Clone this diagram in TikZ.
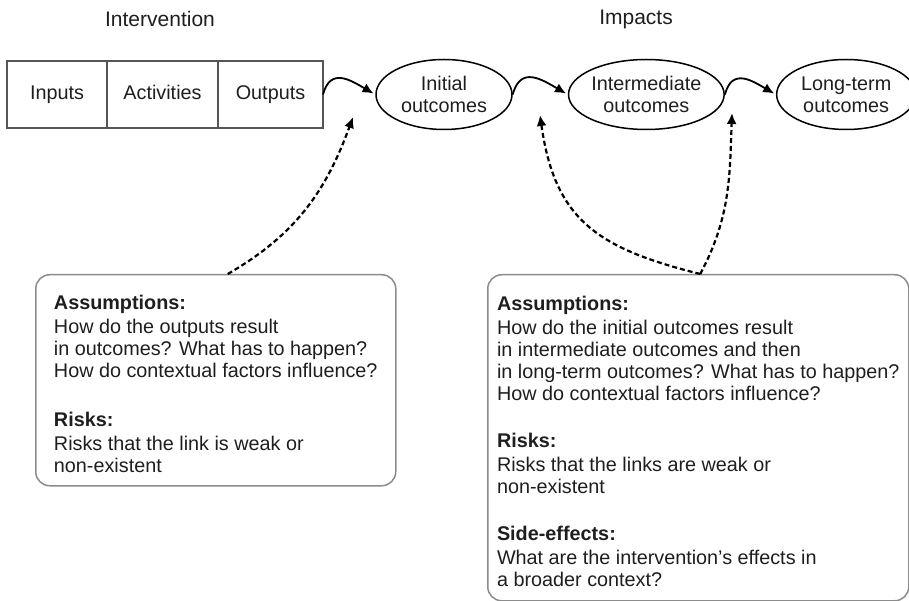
\documentclass[tikz,border=0pt]{standalone}
\usepackage{fontspec}
\setmainfont{Liberation Sans}
\usetikzlibrary{shapes.geometric,arrows.meta,positioning}
\definecolor{boxgray}{HTML}{8C8C8C}
\definecolor{cellgray}{HTML}{555555}
\definecolor{inkgray}{HTML}{1E1E1E}

\tikzset{
    every node/.style={font=\fontsize{19.8}{22}\selectfont, text=inkgray},
    heading/.style={font=\fontsize{21}{24}\selectfont},
    cell/.style={draw=cellgray, line width=1.3pt, minimum height=67pt, outer sep=0pt, inner sep=0pt, text height=14pt, text depth=4pt},
    outcome/.style={ellipse, draw, line width=1.5pt, minimum width=136pt, minimum height=70pt, inner sep=0pt, align=center},
    notebox/.style={draw=boxgray, line width=1.5pt, rounded corners=14pt, align=left, anchor=north west, inner sep=0pt},
    flow/.style={-{Latex[length=11pt,width=10pt]}, line width=1.8pt, looseness=1.4, shorten >=2pt},
    link/.style={-{Latex[length=11pt,width=10pt]}, line width=2.2pt, dash pattern=on 5pt off 3pt}
}

\begin{document}
\begin{tikzpicture}[x=1pt, y=1pt]
        \useasboundingbox (0,0) rectangle (909,-601);

        % headings
        \node[heading] (intervention) at (160,-19) {Intervention};
        \node[heading] (impacts)      at (636,-19) {Impacts};

        % intervention chain
        \node[cell, minimum width=100pt] (inputs) at (57,-94.5) {Inputs};
        \node[cell, minimum width=111pt, right=0pt of inputs] (activities) {Activities};
        \node[cell, minimum width=105pt, right=0pt of activities] (outputs) {Outputs};

        % impacts chain
        \node[outcome] (initial) at (444,-94.5) {Initial\\outcomes};
        \node[outcome, right=55pt of initial] (intermediate) {Intermediate\\outcomes};
        \node[outcome, minimum width=139pt, right=51pt of intermediate] (longterm) {Long-term\\outcomes};

        \draw[flow] (outputs.east) to[out=75,in=150] (initial.west);
        \draw[flow] (initial.east) to[out=75,in=150] (intermediate.west);
        \draw[flow] (intermediate.east) to[out=75,in=150] (longterm.west);

        % notes
        \node[notebox, minimum width=360pt, minimum height=211pt] (leftbox) at (35,-274) {%
            \rule{0pt}{22pt}\textbf{Assumptions:}\\[2pt]
            How do the outputs result\\
            in outcomes? What has to happen?\\
            How do contextual factors influence?\\[27pt]
            \textbf{Risks:}\\[2pt]
            Risks that the link is weak or\\
            non-existent};
        \node[notebox, minimum width=421pt, minimum height=326pt] (rightbox) at (487,-274) {%
            \rule{0pt}{22pt}\textbf{Assumptions:}\\[2pt]
            How do the initial outcomes result\\
            in intermediate outcomes and then\\
            in long-term outcomes? What has to happen?\\
            How do contextual factors influence?\\[25pt]
            \textbf{Risks:}\\[2pt]
            Risks that the links are weak or\\
            non-existent\\[25pt]
            \textbf{Side-effects:}\\[2pt]
            What are the intervention’s effects in\\
            a broader context?};

        \coordinate (tipA) at (353,-117);
        \coordinate (tipB) at (540,-115);
        \coordinate (tipC) at (732,-113);

        \draw[link] ([xshift=12pt]leftbox.north) to[out=30,in=250] (tipA);
        \draw[link] ([xshift=2pt]rightbox.north) to[out=166,in=-82,looseness=1.2] (tipB);
        \draw[link] ([xshift=2pt]rightbox.north) to[out=62,in=-92] (tipC);
\end{tikzpicture}
\end{document}
